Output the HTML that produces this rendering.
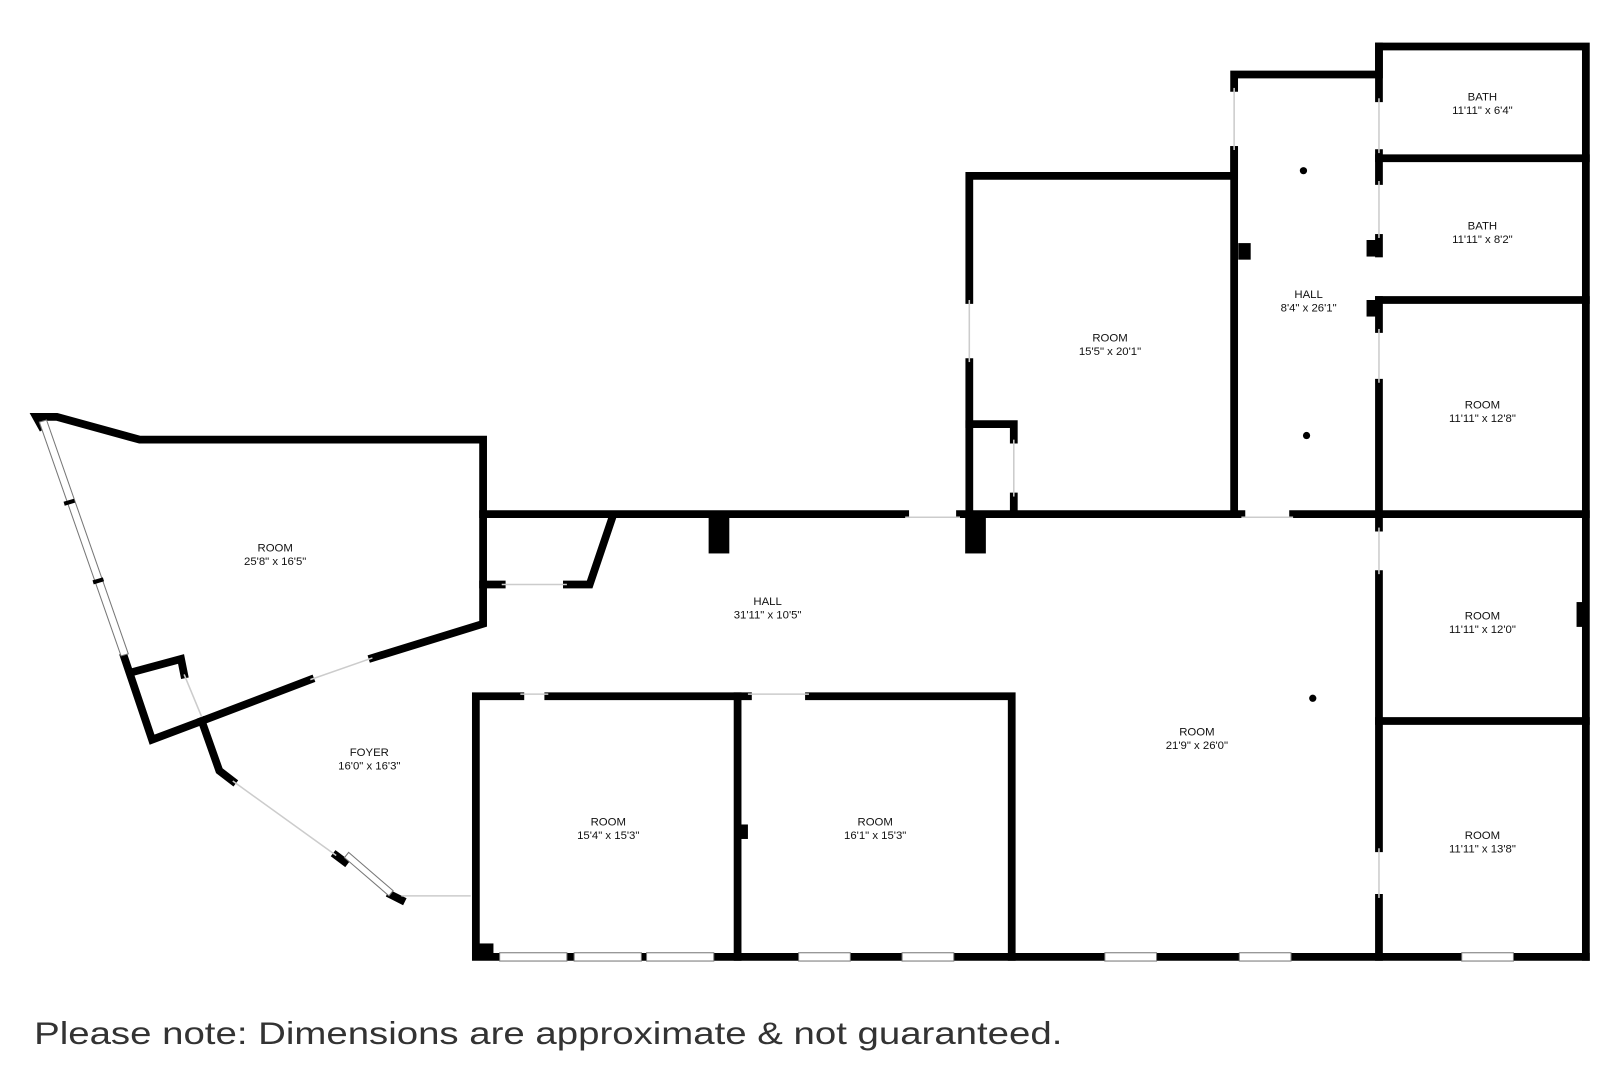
<!DOCTYPE html>
<html><head><meta charset="utf-8"><style>
html,body{margin:0;padding:0;background:#fff;width:1620px;height:1080px;overflow:hidden}
svg{display:block}
text{font-family:"Liberation Sans",sans-serif;fill:#111}
</style></head><body>
<svg width="1620" height="1080" viewBox="0 0 1566 1044" xmlns="http://www.w3.org/2000/svg">
<g fill="none" stroke="#000" stroke-width="7.5" stroke-linejoin="miter" stroke-linecap="square">
<polyline points="120,635 147,715 195,697"/>
<polyline points="40,412 35,403 55,403 135,425 467,425 467,603 360,636"/>
<polyline points="300,657 195,697"/>
<line x1="467" y1="497" x2="875" y2="497"/>
<polyline points="467,565 485,565"/>
<polyline points="548,565 570,565 592,500"/>
<polyline points="127,650 175,637 178,652"/>
<polyline points="195,697 212,745 225,755"/>
<line x1="325" y1="827" x2="333" y2="833"/>
<line x1="378" y1="865" x2="388" y2="870"/>
<polyline points="937,290 937,170 1193,170 1193,145"/>
<polyline points="937,350 937,497 1200,497"/>
<line x1="928" y1="497" x2="937" y2="497"/>
<polyline points="937,410 980,410 980,425"/>
<line x1="980" y1="480" x2="980" y2="497"/>
<line x1="1193" y1="145" x2="1193" y2="497"/>
<polyline points="1193,85 1193,72 1333,72 1333,45 1533,45 1533,925"/>
<line x1="1250" y1="497" x2="1533" y2="497"/>
<line x1="1333" y1="45" x2="1333" y2="95"/>
<line x1="1333" y1="148" x2="1333" y2="175"/>
<line x1="1333" y1="230" x2="1333" y2="245"/>
<line x1="1333" y1="290" x2="1333" y2="318"/>
<line x1="1333" y1="370" x2="1333" y2="510"/>
<line x1="1333" y1="555" x2="1333" y2="820"/>
<line x1="1333" y1="868" x2="1333" y2="925"/>
<line x1="1333" y1="153" x2="1533" y2="153"/>
<line x1="1333" y1="290" x2="1533" y2="290"/>
<line x1="1333" y1="697" x2="1533" y2="697"/>
<polyline points="503,673 460,673 460,925 1533,925"/>
<polyline points="530,673 713,673 713,925"/>
<line x1="713" y1="673" x2="723" y2="673"/>
<polyline points="782,673 978,673 978,925"/>
</g>
<g fill="#000">
<rect x="685" y="497" width="20" height="38"/>
<rect x="933" y="497" width="20" height="38"/>
<rect x="1197" y="235" width="12" height="16"/>
<rect x="1321" y="232" width="12" height="16"/>
<rect x="1321" y="290" width="12" height="16"/>
<rect x="1524" y="582" width="10" height="24"/>
<rect x="713" y="797" width="10" height="14"/>
<rect x="457" y="912" width="20" height="16"/>
<circle cx="1260" cy="165" r="3.5"/>
<circle cx="1263" cy="421" r="3.5"/>
<circle cx="1269" cy="675" r="3.5"/>
</g>
<g fill="#fff" stroke="#777" stroke-width="1">
<polygon points="38,408 45,406 124,632 117,634"/>
<rect x="483" y="921" width="65" height="8"/><rect x="555" y="921" width="65" height="8"/><rect x="625" y="921" width="65" height="8"/>
<rect x="772" y="921" width="50" height="8"/><rect x="872" y="921" width="50" height="8"/>
<rect x="1068" y="921" width="50" height="8"/><rect x="1198" y="921" width="50" height="8"/>
<rect x="1413" y="921" width="50" height="8"/>
<polygon points="333,829 337,824 380,861 376,866"/>
</g>
<g stroke="#000" stroke-width="4">
<line x1="62" y1="487" x2="72" y2="484"/>
<line x1="90" y1="563" x2="100" y2="560"/>
</g>
<g stroke="#ccc" stroke-width="1.5">
<line x1="225" y1="755" x2="325" y2="827"/>
<line x1="388" y1="866" x2="455" y2="866"/>
<line x1="300" y1="657" x2="360" y2="636"/>
<line x1="485" y1="565" x2="548" y2="565"/>
<line x1="875" y1="500" x2="928" y2="500"/>
<line x1="1200" y1="500" x2="1250" y2="500"/>
<line x1="178" y1="652" x2="195" y2="693"/>
<line x1="980" y1="425" x2="980" y2="480"/>
<line x1="503" y1="671" x2="530" y2="671"/>
<line x1="723" y1="671" x2="782" y2="671"/>
<line x1="1193" y1="85" x2="1193" y2="145"/>
<line x1="1333" y1="95" x2="1333" y2="148"/>
<line x1="1333" y1="175" x2="1333" y2="230"/>
<line x1="1333" y1="318" x2="1333" y2="370"/>
<line x1="1333" y1="510" x2="1333" y2="555"/>
<line x1="1333" y1="820" x2="1333" y2="868"/>
<line x1="937" y1="290" x2="937" y2="350"/>
</g>
<g font-size="11" text-anchor="middle">
<text x="266" y="533">ROOM</text><text x="266" y="546">25'8" x 16'5"</text>
<text x="742" y="585">HALL</text><text x="742" y="598">31'11" x 10'5"</text>
<text x="357" y="731">FOYER</text><text x="357" y="744">16'0" x 16'3"</text>
<text x="588" y="798">ROOM</text><text x="588" y="811">15'4" x 15'3"</text>
<text x="846" y="798">ROOM</text><text x="846" y="811">16'1" x 15'3"</text>
<text x="1157" y="711">ROOM</text><text x="1157" y="724">21'9" x 26'0"</text>
<text x="1073" y="330">ROOM</text><text x="1073" y="343">15'5" x 20'1"</text>
<text x="1265" y="288">HALL</text><text x="1265" y="301">8'4" x 26'1"</text>
<text x="1433" y="97">BATH</text><text x="1433" y="110">11'11" x 6'4"</text>
<text x="1433" y="222">BATH</text><text x="1433" y="235">11'11" x 8'2"</text>
<text x="1433" y="395">ROOM</text><text x="1433" y="408">11'11" x 12'8"</text>
<text x="1433" y="599">ROOM</text><text x="1433" y="612">11'11" x 12'0"</text>
<text x="1433" y="811">ROOM</text><text x="1433" y="824">11'11" x 13'8"</text>
</g>
<text x="33" y="1009" font-size="30" style="fill:#333" textLength="994" lengthAdjust="spacingAndGlyphs">Please note: Dimensions are approximate &amp; not guaranteed.</text>
</svg>
</body></html>
